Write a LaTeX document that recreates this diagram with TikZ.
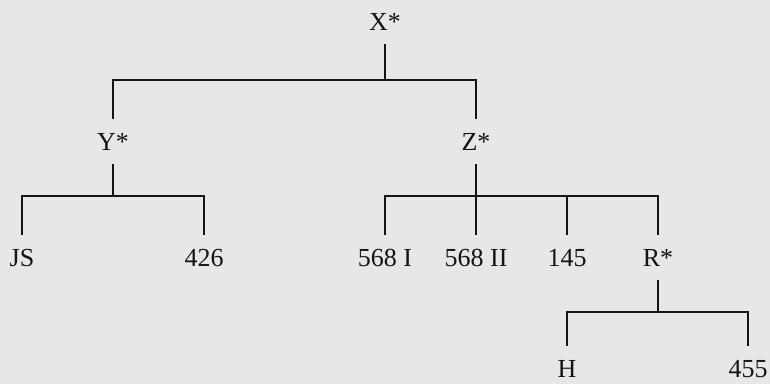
\documentclass[tikz,border=0pt]{standalone}
\usepackage{fontspec}
\setmainfont{Liberation Serif}
\definecolor{bgc}{RGB}{231,231,231}
\definecolor{ink}{RGB}{20,20,20}
\begin{document}
\begin{tikzpicture}[x=1pt,y=-1pt,
  lbl/.style={anchor=base,inner sep=0pt,outer sep=0pt,
    text height=17.2pt,text depth=0pt,text=ink,
    font=\fontsize{26}{30}\selectfont},
  edge/.style={draw=ink,line width=1.4pt,line cap=rect}]
\fill[bgc] (0,0) rectangle (770,384);
\useasboundingbox (0,0) rectangle (770,384);
% nodes
\node[lbl] (X) at (385,30) {X*};
\node[lbl] (Y) at (113,150) {Y*};
\node[lbl] (Z) at (476,150) {Z*};
\node[lbl] (JS) at (22,266) {JS};
\node[lbl] (n426) at (204,266) {426};
\node[lbl] (n568a) at (385,266) {568 I};
\node[lbl] (n568b) at (476,266) {568 II};
\node[lbl] (n145) at (567,266) {145};
\node[lbl] (R) at (658,266) {R*};
\node[lbl] (H) at (567,377) {H};
\node[lbl] (n455) at (748,377) {455};
% gap anchors (line ends kept clear of the text)
\def\gp{15pt}
\coordinate (Xs) at ([yshift=-\gp]X.south);
\coordinate (Yn) at ([yshift=\gp]Y.north);
\coordinate (Ys) at ([yshift=-\gp]Y.south);
\coordinate (Zn) at ([yshift=\gp]Z.north);
\coordinate (Zs) at ([yshift=-\gp]Z.south);
\coordinate (JSn) at ([yshift=\gp]JS.north);
\coordinate (n426n) at ([yshift=\gp]n426.north);
\coordinate (n568an) at ([yshift=\gp]n568a.north);
\coordinate (n568bn) at ([yshift=\gp]n568b.north);
\coordinate (n145n) at ([yshift=\gp]n145.north);
\coordinate (Rn) at ([yshift=\gp]R.north);
\coordinate (Rs) at ([yshift=-\gp]R.south);
\coordinate (Hn) at ([yshift=\gp]H.north);
\coordinate (n455n) at ([yshift=\gp]n455.north);
% bar levels
\coordinate (b1) at (0,80);
\coordinate (b2) at (0,196);
\coordinate (b3) at (0,312);
% edges
\draw[edge] (Xs) -- (Xs |- b1);
\draw[edge] (Yn) |- (b1 -| Zn) -- (Zn);
\draw[edge] (Ys) -- (Ys |- b2);
\draw[edge] (JSn) |- (b2 -| n426n) -- (n426n);
\draw[edge] (Zs) -- (n568bn);
\draw[edge] (n568an) |- (b2 -| Rn) -- (Rn);
\draw[edge] (n145n) -- (n145n |- b2);
\draw[edge] (Rs) -- (Rs |- b3);
\draw[edge] (Hn) |- (b3 -| n455n) -- (n455n);
\end{tikzpicture}
\end{document}
